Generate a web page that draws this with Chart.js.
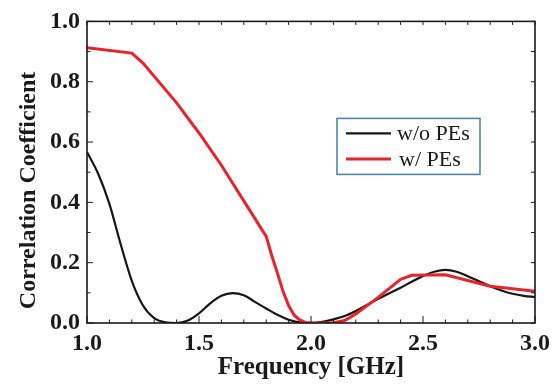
<!DOCTYPE html>
<html>
<head>
<meta charset="utf-8">
<script src="https://cdn.jsdelivr.net/npm/chart.js@4.4.1/dist/chart.umd.min.js"></script>
<style>
  html, body { margin: 0; padding: 0; background: #fff; }
  #wrap { width: 560px; height: 384px; }
</style>
</head>
<body>
<div id="wrap"><canvas id="corrChart" width="560" height="384"></canvas></div>
<script>
// correlation coefficient vs frequency, without / with PEs
const seriesNames = ['w/o PEs', 'w/ PEs'];
const xTitle = 'Frequency [GHz]';
const yTitle = 'Correlation Coefficient';

const freqNoPE = [1.00, 1.05, 1.10, 1.15, 1.20, 1.25, 1.30, 1.35, 1.40, 1.45, 1.50, 1.55, 1.60, 1.65, 1.70,
  1.75, 1.80, 1.85, 1.90, 1.95, 2.00, 2.05, 2.10, 2.15, 2.20, 2.25, 2.30, 2.35, 2.40, 2.45, 2.50,
  2.55, 2.60, 2.65, 2.70, 2.75, 2.80, 2.85, 2.90, 2.95, 3.00];
const corrNoPE = [0.567, 0.495, 0.395, 0.262, 0.140, 0.058, 0.016, 0.002, 0.000, 0.008, 0.032, 0.065, 0.090, 0.099, 0.092,
  0.070, 0.048, 0.027, 0.011, 0.002, 0.000, 0.004, 0.012, 0.023, 0.040, 0.060, 0.080, 0.099, 0.117, 0.137, 0.156,
  0.170, 0.176, 0.170, 0.155, 0.138, 0.122, 0.108, 0.097, 0.090, 0.086];

const freqPE = [1.00, 1.20, 1.25, 1.40, 1.50, 1.60, 1.70, 1.80, 1.825, 1.85, 1.875, 1.90, 1.925, 1.95, 1.975,
  2.00, 2.05, 2.10, 2.15, 2.20, 2.30, 2.40, 2.45, 2.60, 2.80, 3.00];
const corrPE = [0.913, 0.895, 0.862, 0.730, 0.630, 0.523, 0.405, 0.287, 0.223, 0.166, 0.105, 0.058, 0.026, 0.010, 0.002,
  0.000, 0.000, 0.001, 0.008, 0.030, 0.085, 0.145, 0.158, 0.160, 0.122, 0.105];

const xTickStep = 0.5;
const yTickStep = 0.2;

const toPoints = (xs, ys) => xs.map((x, i) => ({ x: x, y: ys[i] }));

const serif = '"Liberation Serif", "Times New Roman", serif';
const boldFont = { family: serif, size: 24, weight: 'bold' };

// inward ticks on all four sides plus the box frame
const frameTicks = {
  id: 'frameTicks',
  afterDatasetsDraw(chart) {
    const { ctx, chartArea: a, scales: { x, y } } = chart;
    const seg = (x1, y1, x2, y2) => { ctx.beginPath(); ctx.moveTo(x1, y1); ctx.lineTo(x2, y2); ctx.stroke(); };
    ctx.save();
    ctx.strokeStyle = '#1a1a1a';
    ctx.lineWidth = 1;
    for (let i = 0; i <= 20; i++) {
      const px = x.getPixelForValue(1 + i * 0.1);
      const len = i % 5 === 0 ? 7 : 3.5;
      seg(px, a.bottom, px, a.bottom - len);
      seg(px, a.top, px, a.top + 3.5);
    }
    for (let i = 0; i <= 10; i++) {
      const py = y.getPixelForValue(i * 0.1);
      const len = i % 2 === 0 ? 6 : 3.5;
      seg(a.left, py, a.left + len, py);
      seg(a.right, py, a.right - 4, py);
    }
    ctx.lineWidth = 1.6;
    ctx.strokeRect(a.left, a.top, a.right - a.left, a.bottom - a.top);
    ctx.restore();
  }
};

// axis titles; the y title sits a little below the plot's mid-height
const axisTitles = {
  id: 'axisTitles',
  afterDraw(chart) {
    const { ctx, chartArea: a } = chart;
    ctx.save();
    ctx.fillStyle = '#1a1a1a';
    ctx.textAlign = 'center';
    ctx.textBaseline = 'alphabetic';
    ctx.font = 'bold 25px ' + serif;
    ctx.fillText(xTitle, (a.left + a.right) / 2, a.bottom + 51);
    ctx.font = 'bold 24px ' + serif;
    ctx.translate(35, a.top + 169);
    ctx.rotate(-Math.PI / 2);
    ctx.fillText(yTitle, 0, 0);
    ctx.restore();
  }
};

// boxed legend inside the plot area
const boxLegend = {
  id: 'boxLegend',
  afterDraw(chart) {
    const { ctx, chartArea: a } = chart;
    const bx = a.left + 250, by = a.top + 97, bw = 143, bh = 56;
    ctx.save();
    ctx.fillStyle = '#fff';
    ctx.fillRect(bx, by, bw, bh);
    ctx.strokeStyle = '#4f87ab';
    ctx.lineWidth = 1.6;
    ctx.strokeRect(bx, by, bw, bh);
    ctx.font = '22px ' + serif;
    ctx.textBaseline = 'middle';
    ctx.fillStyle = '#1a1a1a';
    chart.data.datasets.forEach((ds, i) => {
      const ly = by + 15 + i * 25.5;
      ctx.strokeStyle = ds.borderColor;
      ctx.lineWidth = ds.borderWidth;
      ctx.beginPath();
      ctx.moveTo(bx + 9, ly);
      ctx.lineTo(bx + 54, ly);
      ctx.stroke();
      ctx.fillText(ds.label, bx + 60 + i * 2, ly + 1);
    });
    ctx.restore();
  }
};

new Chart(document.getElementById('corrChart'), {
  type: 'line',
  data: {
    datasets: [{
      label: seriesNames[0],
      data: toPoints(freqNoPE, corrNoPE),
      borderColor: '#161616',
      borderWidth: 2.2,
      pointRadius: 0,
      cubicInterpolationMode: 'monotone',
      order: 1
    }, {
      label: seriesNames[1],
      data: toPoints(freqPE, corrPE),
      borderColor: '#e8232b',
      borderWidth: 3,
      pointRadius: 0,
      tension: 0,
      order: 0
    }]
  },
  options: {
    responsive: false,
    animation: false,
    layout: { padding: { top: 16, right: 25, bottom: 0, left: 0 } },
    plugins: { legend: { display: false }, tooltip: { enabled: false } },
    scales: {
      x: {
        type: 'linear',
        min: 1, max: 3,
        grid: { display: false, drawTicks: false },
        border: { display: false },
        ticks: {
          stepSize: xTickStep,
          color: '#1a1a1a',
          font: boldFont,
          padding: 6,
          maxRotation: 0,
          callback: v => v.toFixed(1)
        },
        afterFit: s => { s.height = 61; }
      },
      y: {
        min: 0, max: 1,
        grid: { display: false, drawTicks: false },
        border: { display: false },
        ticks: {
          stepSize: yTickStep,
          color: '#1a1a1a',
          font: boldFont,
          padding: 7,
          callback: v => v.toFixed(1)
        },
        afterFit: s => { s.width = 87; }
      }
    }
  },
  plugins: [frameTicks, axisTitles, boxLegend]
});
</script>
</body>
</html>
